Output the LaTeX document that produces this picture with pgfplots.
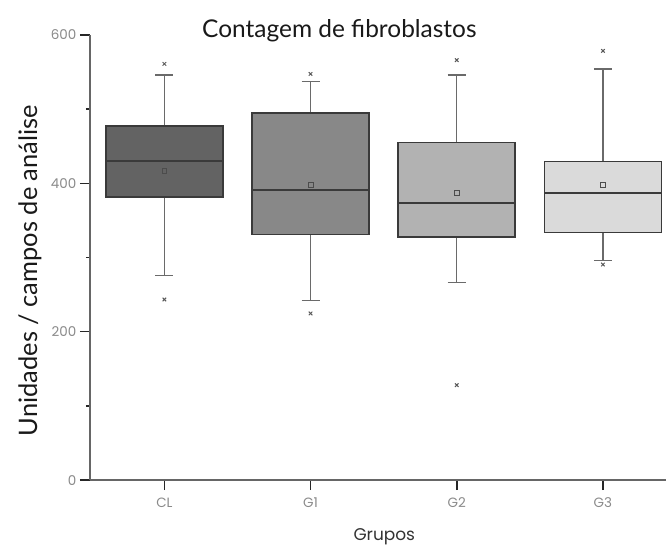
\documentclass[border=0pt]{standalone}
\usepackage{fontspec}
\setmainfont{Lato}
\newfontfamily\pop{Poppins}
\usepackage{pgfplots}
\pgfplotsset{compat=1.18}
\definecolor{cCL}{HTML}{636363}
\definecolor{cG1}{HTML}{888888}
\definecolor{cG2}{HTML}{B2B2B2}
\definecolor{cG3}{HTML}{DADADA}
\definecolor{edge}{HTML}{3A3A3A}
\definecolor{whisk}{HTML}{6A6A6A}
\definecolor{tickc}{HTML}{8A8A8A}
\begin{document}
\begin{tikzpicture}
\begin{axis}[
  scale only axis, width=577pt, height=446pt,
  xmin=-0.51, xmax=3.43, ymin=0, ymax=600,
  axis x line*=bottom, axis y line*=left,
  axis line style={draw=black!60, line width=2.4pt},
  xtick={0,1,2,3}, xticklabels={CL,G1,G2,G3},
  ytick={0,200,400,600}, minor ytick={100,300,500},
  tick align=outside, major tick length=10pt, minor tick length=4pt,
  major tick style={draw=black!85, line width=1.5pt},
  minor tick style={draw=black!85, line width=1.5pt},
  /pgf/number format/assume math mode=true,
  tick label style={font=\pop\fontsize{13.5}{15}\selectfont, text=tickc},
  xticklabel style={yshift=-4pt},
  clip=false,
]
% whiskers
\addplot[draw=whisk, line width=1.4pt] coordinates {(0,382) (0,276)};
\addplot[draw=whisk, line width=1.4pt] coordinates {(0,477.6) (0,546)};
\addplot[draw=whisk, line width=1.4pt] coordinates {(-0.062,276) (0.062,276)};
\addplot[draw=whisk, line width=1.4pt] coordinates {(-0.062,546) (0.062,546)};
\addplot[draw=whisk, line width=1.4pt] coordinates {(1,331) (1,242)};
\addplot[draw=whisk, line width=1.4pt] coordinates {(1,495) (1,537)};
\addplot[draw=whisk, line width=1.4pt] coordinates {(0.938,242) (1.062,242)};
\addplot[draw=whisk, line width=1.4pt] coordinates {(0.938,537) (1.062,537)};
\addplot[draw=whisk, line width=1.4pt] coordinates {(2,328) (2,266)};
\addplot[draw=whisk, line width=1.4pt] coordinates {(2,455) (2,546)};
\addplot[draw=whisk, line width=1.4pt] coordinates {(1.938,266) (2.062,266)};
\addplot[draw=whisk, line width=1.4pt] coordinates {(1.938,546) (2.062,546)};
\addplot[draw=whisk, line width=1.4pt] coordinates {(3,333.6) (3,296)};
\addplot[draw=whisk, line width=1.4pt] coordinates {(3,429.6) (3,554)};
\addplot[draw=whisk, line width=1.4pt] coordinates {(2.938,296) (3.062,296)};
\addplot[draw=whisk, line width=1.4pt] coordinates {(2.938,554) (3.062,554)};
% boxes
\addplot[fill=cCL, draw=edge, line width=1.7pt] coordinates {(-0.4,382) (0.4,382) (0.4,477.6) (-0.4,477.6)} -- cycle;
\addplot[fill=cG1, draw=edge, line width=1.7pt] coordinates {(0.6,331) (1.4,331) (1.4,495) (0.6,495)} -- cycle;
\addplot[fill=cG2, draw=edge, line width=1.7pt] coordinates {(1.6,328) (2.4,328) (2.4,455) (1.6,455)} -- cycle;
\addplot[fill=cG3, draw=edge, line width=1.7pt] coordinates {(2.6,333.6) (3.4,333.6) (3.4,429.6) (2.6,429.6)} -- cycle;
% medians
\addplot[draw=edge, line width=1.8pt] coordinates {(-0.4,430.5) (0.4,430.5)};
\addplot[draw=edge, line width=1.8pt] coordinates {(0.6,391.5) (1.4,391.5)};
\addplot[draw=edge, line width=1.8pt] coordinates {(1.6,374) (2.4,374)};
\addplot[draw=edge, line width=1.8pt] coordinates {(2.6,387) (3.4,387)};
% outliers
\addplot[only marks, mark=x, mark size=2.5pt, mark options={draw=black!65, line width=1pt}]
  coordinates {(0,561) (0,243.5) (1,547.5) (1,224.7) (2,566) (2,128) (3,578.5) (3,290.6)};
% means
\addplot[only marks, mark=square, mark size=2.4pt, mark options={draw=black!70, fill=none, line width=0.9pt}]
  coordinates {(0,417) (1,398) (2,387) (3,398)};
\end{axis}
\node[anchor=base, font=\fontsize{24.5}{28}\selectfont, text=black!90] at (250pt,443pt) {Contagem de fibroblastos};
\node[rotate=90, font=\fontsize{25.5}{28}\selectfont, text=black!90] at (-60pt,210pt) {Unidades / campos de análise};
\node[font=\pop\fontsize{17}{19}\selectfont, text=black!80] at (295pt,-57pt) {Grupos};
\path (-90pt,-63pt) rectangle (577pt,481pt);
\end{tikzpicture}
\end{document}
